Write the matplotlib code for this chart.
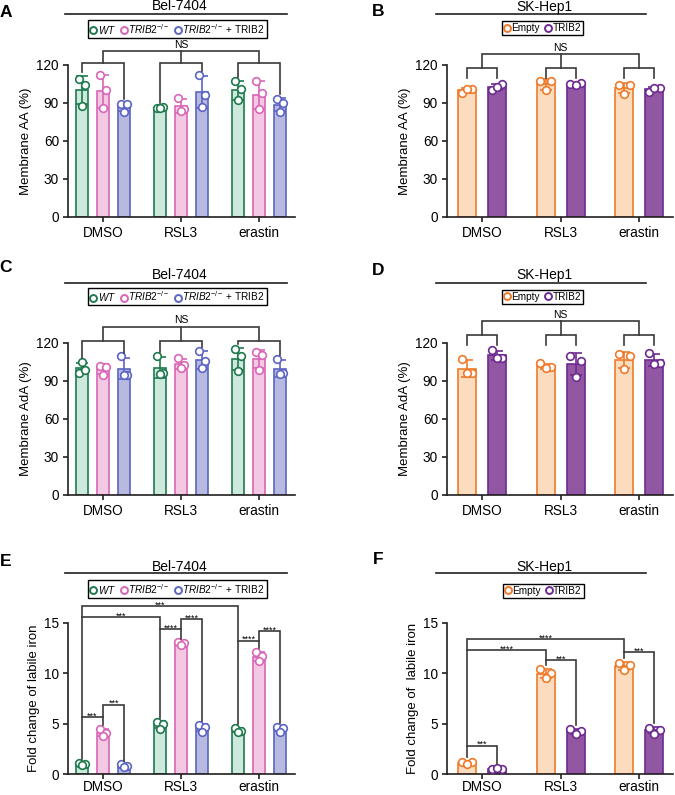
import numpy as np
import matplotlib.pyplot as plt
from matplotlib.lines import Line2D

plt.rcParams['font.family'] = ['Liberation Sans', 'DejaVu Sans']
plt.rcParams['mathtext.fontset'] = 'custom'
plt.rcParams['mathtext.rm'] = 'Liberation Sans'
plt.rcParams['mathtext.it'] = 'Liberation Sans:italic'

treatments = ['DMSO', 'RSL3', 'erastin']
bel_labels = [r'$\mathit{WT}$', r'$\mathit{TRIB2}^{\mathit{-/-}}$',
              r'$\mathit{TRIB2}^{\mathit{-/-}}$ + TRIB2']
sk_labels = ['Empty', 'TRIB2']

# membrane AA (%), three replicates per treatment
aa_bel_wt = [[109, 104, 88], [86, 87, 86], [107, 101, 92]]
aa_bel_ko = [[112, 100, 86], [94, 85, 84], [107, 98, 85]]
aa_bel_res = [[89, 89, 83], [112, 96, 87], [93, 90, 83]]
aa_sk_empty = [[98, 101, 101], [107, 107, 100], [104, 104, 97]]
aa_sk_trib2 = [[100, 105, 103], [105, 105.5, 104.5], [99, 102, 101.5]]

# membrane AdA (%)
ada_bel_wt = [[96, 99, 105], [110, 96, 95.5], [115, 109.5, 97.5]]
ada_bel_ko = [[102, 101, 95], [108, 103, 100], [112.5, 110.5, 99]]
ada_bel_res = [[109.5, 95, 95], [114, 105.5, 100.5], [107.5, 96, 95.5]]
ada_sk_empty = [[107.5, 96, 96], [104, 101, 100], [111, 110, 99.5]]
ada_sk_trib2 = [[114.5, 108.5, 108], [110, 106, 93.5], [112, 104, 103.5]]

# fold change of labile iron
iron_bel_wt = [[1.1, 1.0, 0.9], [5.2, 5.0, 4.5], [4.6, 4.3, 4.2]]
iron_bel_ko = [[4.5, 4.1, 3.75], [13.1, 13.0, 12.85], [12.1, 11.7, 11.2]]
iron_bel_res = [[0.95, 0.75, 0.65], [4.9, 4.7, 4.2], [4.7, 4.55, 4.2]]
iron_sk_empty = [[1.2, 1.2, 1.0], [10.4, 10.0, 9.5], [11.0, 10.85, 10.3]]
iron_sk_trib2 = [[0.5, 0.45, 0.55], [4.45, 4.25, 3.95], [4.6, 4.4, 4.0]]

bel_edge = ['#1f7a4f', '#d966b6', '#5b64c4']
bel_fill = ['#cde8dc', '#f3c8e3', '#b8b9df']
sk_edge = ['#f07a2a', '#6e2a91']
sk_fill = ['#fbdcbf', '#9257a2']
LINE = '#3a3a3a'

W, H = 675, 795
fig = plt.figure(figsize=(W / 100, H / 100), dpi=100)


def box(l, r, top, bottom):
    return [l / W, 1 - bottom / H, (r - l) / W, (bottom - top) / H]


def fy(y):
    return 1 - y / H


def setup(ax, ymax, yticks, ylabel, xlim, step, xpad=3):
    ax.set_ylim(0, ymax)
    ax.set_xlim(*xlim)
    ax.set_yticks(yticks)
    ax.set_xticks(np.arange(3) * step)
    ax.set_xticklabels(treatments)
    for s in ['top', 'right']:
        ax.spines[s].set_visible(False)
    for s in ['left', 'bottom']:
        ax.spines[s].set_linewidth(1.2)
        ax.spines[s].set_color('#231f20')
    ax.tick_params(length=3.5, width=1.2, labelsize=9.8, pad=3, color='#231f20')
    ax.tick_params(axis='x', pad=xpad)
    ax.set_ylabel(ylabel, fontsize=9.5, labelpad=3)


def draw_bars(ax, series, edges, fills, step, width, jit):
    n = len(series)
    tops = {}
    for i, s in enumerate(series):
        arr = np.array(s, dtype=float)
        means = arr.mean(axis=1)
        sds = arr.std(axis=1, ddof=1)
        xs = np.arange(3) * step + i - (n - 1) / 2
        ax.bar(xs, means, width, color=fills[i], edgecolor=edges[i], lw=1.2, zorder=2)
        ax.errorbar(xs, means, yerr=sds, fmt='none', ecolor=edges[i], elinewidth=1.2,
                    capsize=4, capthick=1.2, zorder=3)
        offs = np.array([-jit, jit, 0])
        for g in range(3):
            ax.plot(xs[g] + offs, arr[g], 'o', ms=5.5, mfc='white', mec=edges[i],
                    mew=1.2, zorder=4, clip_on=False)
            tops[(g, i)] = (xs[g], max(arr[g].max(), means[g] + sds[g]))
    return tops


def bracket(ax, x1, x2, y, b1, b2, label, fs, off):
    ax.plot([x1, x1, x2, x2], [b1, y, y, b2], color=LINE, lw=1.2, clip_on=False,
            zorder=5, solid_joinstyle='miter')
    ax.annotate(label, ((x1 + x2) / 2, y), xytext=(0, off), textcoords='offset points',
                ha='center', va='baseline', fontsize=fs, annotation_clip=False)


def ns_brackets(ax, tops, n, yg, ytop, leg_pad=None, leg_len=None):
    centers = []
    for g in range(3):
        xa, ta = tops[(g, 0)]
        xb, tb = tops[(g, n - 1)]
        if leg_len is None:
            ba, bb = ta + leg_pad, tb + leg_pad
        else:
            ba = bb = yg - leg_len
        bracket(ax, xa, xb, yg, ba, bb, '', 7, 0)
        centers.append((xa + xb) / 2)
    ax.plot([centers[1], centers[1]], [yg, ytop], color=LINE, lw=1.2, clip_on=False, zorder=5)
    bracket(ax, centers[0], centers[2], ytop, yg, yg, 'NS', 7.5, 2.5)


def header(title, cx, ty, l, r, ly, labels, edges, lx, lcy, letter, px, py):
    fig.text(cx / W, fy(ty), title, ha='center', va='center', fontsize=10)
    fig.add_artist(Line2D([l / W, r / W], [fy(ly), fy(ly)], color='#231f20', lw=1.2))
    handles = [Line2D([], [], marker='o', ls='none', mfc='white', mec=e, mew=1.4, ms=5)
               for e in edges]
    leg = fig.legend(handles, labels, loc='center', bbox_to_anchor=(lx / W, fy(lcy)),
                     ncol=len(labels), fontsize=7.2, frameon=True, fancybox=False,
                     edgecolor='black', framealpha=1, handlelength=0.6, handletextpad=0.15,
                     columnspacing=0.5, borderpad=0.2, borderaxespad=0)
    leg.get_frame().set_linewidth(1.0)
    fig.text(px / W, fy(py), letter, ha='center', va='center', fontsize=12.5, fontweight='bold')


# geometry for the two layouts
step3, xlim3 = 3.71, (-1.67, 2 * 3.71 + 1.71)
step2, xlim2 = 2.62, (-1.17, 2 * 2.62 + 1.13)

# ---- A ----
ax = fig.add_axes(box(68, 295, 65, 217))
setup(ax, 120, [0, 30, 60, 90, 120], 'Membrane AA (%)', xlim3, step3)
t = draw_bars(ax, [aa_bel_wt, aa_bel_ko, aa_bel_res], bel_edge, bel_fill, step3, 0.57, 0.15)
ns_brackets(ax, t, 3, 121.9, 131, leg_pad=3)
header('Bel-7404', 180, 6.5, 65, 287, 13.5, bel_labels, bel_edge, 177.5, 29, 'A', 6, 12.5)

# ---- B ----
ax = fig.add_axes(box(447, 673, 65, 217))
setup(ax, 120, [0, 30, 60, 90, 120], 'Membrane AA (%)', xlim2, step2)
t = draw_bars(ax, [aa_sk_empty, aa_sk_trib2], sk_edge, sk_fill, step2, 0.6, 0.18)
ns_brackets(ax, t, 2, 118, 128.5, leg_len=8.5)
header('SK-Hep1', 544, 6.5, 436, 646, 13.5, sk_labels, sk_edge, 542.5, 28, 'B', 378, 12)

# ---- C ----
ax = fig.add_axes(box(68, 295, 343, 495))
setup(ax, 120, [0, 30, 60, 90, 120], 'Membrane AdA (%)', xlim3, step3)
t = draw_bars(ax, [ada_bel_wt, ada_bel_ko, ada_bel_res], bel_edge, bel_fill, step3, 0.57, 0.15)
ns_brackets(ax, t, 3, 121.3, 133, leg_pad=2.8)
header('Bel-7404', 180, 275, 65, 287, 283, bel_labels, bel_edge, 177.5, 296.5, 'C', 6, 268)

# ---- D ----
ax = fig.add_axes(box(447, 673, 343, 495))
setup(ax, 120, [0, 30, 60, 90, 120], 'Membrane AdA (%)', xlim2, step2)
t = draw_bars(ax, [ada_sk_empty, ada_sk_trib2], sk_edge, sk_fill, step2, 0.6, 0.18)
ns_brackets(ax, t, 2, 126, 137, leg_len=7.3)
header('SK-Hep1', 544, 275, 436, 646, 283, sk_labels, sk_edge, 542.5, 296.5, 'D', 378, 271)

# ---- E ----
ax = fig.add_axes(box(68, 295, 623, 774))
setup(ax, 15, [0, 5, 10, 15], 'Fold change of labile iron', xlim3, step3, xpad=1)
t = draw_bars(ax, [iron_bel_wt, iron_bel_ko, iron_bel_res], bel_edge, bel_fill, step3, 0.57, 0.15)
p = 0.35
x = {k: v[0] for k, v in t.items()}
top = {k: v[1] + p for k, v in t.items()}
bracket(ax, x[(0, 0)], x[(2, 0)], 16.7, 15.6, 13.25, '***', 6.5, -1)
bracket(ax, x[(0, 0)], x[(1, 0)], 15.6, 5.66, 14.4, '***', 6.5, -1)
bracket(ax, x[(1, 0)], x[(1, 1)], 14.4, top[(1, 0)], top[(1, 1)], '****', 6.5, -1)
bracket(ax, x[(1, 1)], x[(1, 2)], 15.4, 14.4, top[(1, 2)], '****', 6.5, -1)
bracket(ax, x[(2, 0)], x[(2, 1)], 13.25, top[(2, 0)], top[(2, 1)], '****', 6.5, -1)
bracket(ax, x[(2, 1)], x[(2, 2)], 14.2, 13.25, top[(2, 2)], '****', 6.5, -1)
bracket(ax, x[(0, 0)], x[(0, 1)], 5.66, top[(0, 0)], top[(0, 1)], '***', 6.5, -1)
bracket(ax, x[(0, 1)], x[(0, 2)], 6.9, 5.66, top[(0, 2)], '***', 6.5, -1)
header('Bel-7404', 180, 567, 65, 287, 573, bel_labels, bel_edge, 177.5, 589, 'E', 6, 562)

# ---- F ----
ax = fig.add_axes(box(447, 673, 623, 774))
setup(ax, 15, [0, 5, 10, 15], 'Fold change of  labile iron', xlim2, step2, xpad=1)
t = draw_bars(ax, [iron_sk_empty, iron_sk_trib2], sk_edge, sk_fill, step2, 0.6, 0.18)
p = 0.4
x = {k: v[0] for k, v in t.items()}
top = {k: v[1] + p for k, v in t.items()}
bracket(ax, x[(0, 0)], x[(2, 0)], 13.4, 12.3, 12.1, '****', 6.5, -1)
bracket(ax, x[(0, 0)], x[(1, 0)], 12.3, 2.8, 11.3, '****', 6.5, -1)
bracket(ax, x[(1, 0)], x[(1, 1)], 11.3, top[(1, 0)], top[(1, 1)], '***', 6.5, -1)
bracket(ax, x[(2, 0)], x[(2, 1)], 12.1, top[(2, 0)], top[(2, 1)], '***', 6.5, -1)
bracket(ax, x[(0, 0)], x[(0, 1)], 2.8, top[(0, 0)], top[(0, 1)], '***', 6.5, -1)
header('SK-Hep1', 544, 567, 436, 646, 573, sk_labels, sk_edge, 543, 590.5, 'F', 378, 560)

fig.savefig('out.png', dpi=100)
